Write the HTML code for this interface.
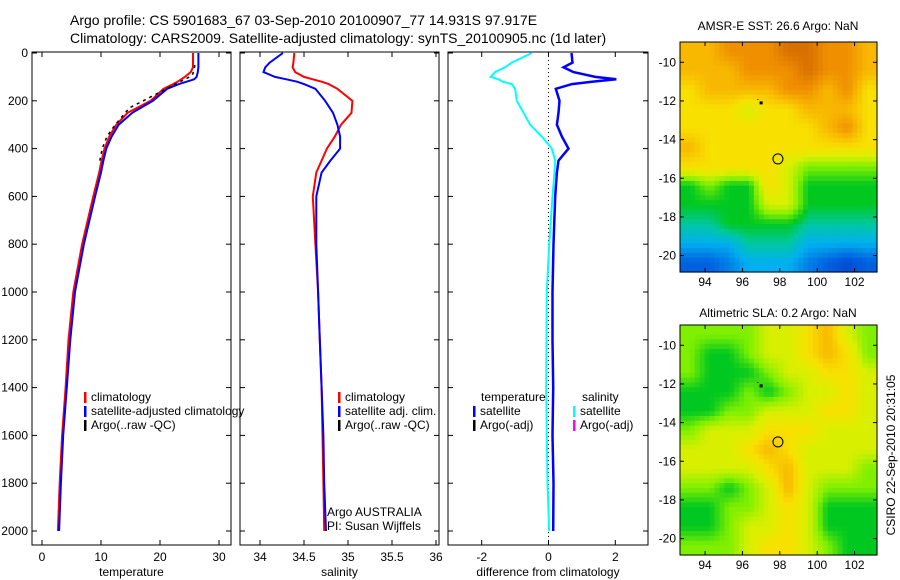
<!DOCTYPE html>
<html><head><meta charset="utf-8"><style>
body{margin:0;background:#fff;}
svg{display:block;font-family:"Liberation Sans",sans-serif;}
</style></head><body>
<svg id="c" width="900" height="580" viewBox="0 0 900 580">
<text x="70" y="25" font-size="14">Argo profile: CS 5901683_67 03-Sep-2010 20100907_77 14.931S 97.917E</text>
<text x="70" y="43" font-size="14">Climatology: CARS2009. Satellite-adjusted climatology: synTS_20100905.nc (1d later)</text>
<text x="778" y="30" font-size="12" text-anchor="middle">AMSR-E SST: 26.6 Argo: NaN</text>
<text x="778" y="317" font-size="12" text-anchor="middle">Altimetric SLA: 0.2 Argo: NaN</text>
<text transform="translate(895,455) rotate(-90)" font-size="12" text-anchor="middle">CSIRO 22-Sep-2010 20:31:05</text>
<g id="g"></g>
</svg>
<script>
const depths=[0,40,60,80,100,110,120,130,150,200,250,300,350,400,450,500,600,800,1000,1200,1400,1600,1800,2000];
const tempClim=[25.6,25.6,25.6,25.2,24.2,23.6,23.0,22.2,20.6,18.4,14.5,12.6,11.4,10.6,10.1,9.7,8.7,6.8,5.3,4.5,4.0,3.4,3.0,2.7];
const tempSat=[26.5,26.5,26.5,26.4,26.2,25.8,24.5,23.2,21.2,18.8,15.3,13.0,11.8,10.9,10.4,10.0,9.0,7.1,5.6,4.8,4.2,3.6,3.2,2.9];
const argoDepths=[50,70,90,100,110,230,260,300,350,400,450];
const argoTemp=[25.9,25.8,25.5,25.0,24.2,14.8,13.8,12.4,11.0,10.2,9.8];
const salClim=[34.39,34.38,34.37,34.4,34.5,34.6,34.7,34.78,34.88,35.05,35.04,34.92,34.85,34.76,34.7,34.64,34.6,34.63,34.66,34.68,34.7,34.71,34.72,34.73];
const salSat=[34.26,34.11,34.06,34.04,34.17,34.3,34.42,34.5,34.63,34.74,34.83,34.88,34.91,34.91,34.8,34.7,34.64,34.64,34.66,34.68,34.7,34.72,34.73,34.75];
const diffTemp=[0.69,0.72,0.45,0.75,1.4,2.03,1.3,0.7,0.22,0.33,0.3,0.25,0.4,0.6,0.3,0.25,0.2,0.15,0.12,0.12,0.14,0.12,0.15,0.14];
const diffSal=[-0.5,-1.1,-1.3,-1.6,-1.73,-1.5,-1.37,-1.1,-1.0,-0.95,-0.75,-0.55,-0.2,0.1,0.2,0.18,0.12,0.02,-0.05,-0.06,-0.07,-0.05,-0.03,0.02];
const depthTicks=[0,200,400,600,800,1000,1200,1400,1600,1800,2000];
const tempTicks=[0,10,20,30];
const salTicks=[34,34.5,35,35.5,36];
const diffTicks=[-2,0,2];
const lonTicks=[94,96,98,100,102];
const latTicks=[-10,-12,-14,-16,-18,-20];
const sstGrid=[
[6,6,7,7,7,8,8,7,7,6],[6,6,6,7,7,7,8,7,7,6],[5,6,6,6,6,7,7,6,7,5],[5,5,5,4,5,5,6,6,6,5],
[5,5,5,5,5,5,5,6,7,5],[6,5,5,5,5,5,5,5,5,5],[5,5,5,5,5,4,3,3,3,3],[2,3,2,2,5,4,2,2,2,2],
[2,2,2,2,4,4,2,2,2,2],[1.5,1.5,2,2,2,2,1.5,1.5,1.5,1.5],[1,1,1,1.5,1.5,1.5,1,1,1,1],[0.5,0.5,0.7,1,1,1,0.7,0.5,0.3,0.5]];
const slaGrid=[
[3,3,3,3,4,4,5,6,4,3],[3,2,2,3,4,4,5,6,5,3],[3,2,2,2,3,4,4,5,5,4],[2,2,2,3,2,3,4,4,5,4],
[2,2,3,3,4,4,4,5,5,4],[3,4,4,4,5,5,5,4,4,4],[4,4,4,5,6,5,4,4,4,4],[4,4,4,4,5,6,4,4,4,3],
[3,3,2,3,4,6,4,3,3,3],[2,2,3,3,4,5,4,2,2,2],[2,2,3,4,4,5,4,2,2,2],[3,3,3,4,5,5,4,3,2,2]];
const argoLon=[97.9];const argoLat=[-15.0];

const NS='http://www.w3.org/2000/svg';const G=document.getElementById('g');
function mk(t,a,p){const e=document.createElementNS(NS,t);for(const k in a)e.setAttribute(k,a[k]);(p||G).appendChild(e);return e;}
const yD=d=>53+d*(478/2000);
const PB=545, PTOP=52;
function panel(x0,x1,fx,ticks,lab,xlabel,name,showY){
  const r=mk('rect',{x:x0,y:PTOP,width:x1-x0,height:PB-PTOP,fill:'none',stroke:'#000','stroke-width':1});
  
  depthTicks.forEach(d=>{const y=yD(d);mk('line',{x1:x0,x2:x0+5,y1:y,y2:y,stroke:'#000'});mk('line',{x1:x1-5,x2:x1,y1:y,y2:y,stroke:'#000'});
    if(showY){const t=mk('text',{x:x0-4,y:y+4,'font-size':12,'text-anchor':'end'});t.textContent=d;}});
  ticks.forEach(v=>{const x=fx(v);mk('line',{x1:x,x2:x,y1:PTOP,y2:PTOP+5,stroke:'#000'});mk('line',{x1:x,x2:x,y1:PB-5,y2:PB,stroke:'#000'});
    const t=mk('text',{x:x,y:561,'font-size':12,'text-anchor':'middle'});t.textContent=v;});
  const t=mk('text',{x:(x0+x1)/2,y:576,'font-size':12,'text-anchor':'middle'});t.textContent=xlabel;
}
function line(ds,vs,fx,col,w,name,extra){
  const p=mk('polyline',Object.assign({points:ds.map((d,i)=>fx(vs[i]).toFixed(1)+','+yD(d).toFixed(1)).join(' '),fill:'none',stroke:col,'stroke-width':w},extra||{}));
  
}
function legend(x,y,col,txt,name){
  mk('rect',{x:x,y:y-9,width:2.5,height:11,fill:col});
  const t=mk('text',{x:x+7,y:y,'font-size':12});t.textContent=txt;
}
const fT=v=>42+v*5.9;
panel(32,231,fT,tempTicks,null,'temperature','temperature-panel',true);
line(depths,tempClim,fT,'#f00',2,'temp-climatology-line');
line(depths,tempSat,fT,'#00f',2,'temp-satellite-line');
line(argoDepths,argoTemp,fT,'#000',1.5,'temp-argo-line',{'stroke-dasharray':'3,4'});
legend(84,401,'#f00','climatology','legend-climatology');
legend(84,415,'#00f','satellite-adjusted climatology','legend-satellite');
legend(84,429,'#000','Argo(..raw -QC)','legend-argo');
const fS=v=>260+(v-34)*88;
panel(240,439,fS,salTicks,null,'salinity','salinity-panel',false);
line(depths,salClim,fS,'#f00',2,'sal-climatology-line');
line(depths,salSat,fS,'#00f',2,'sal-satellite-line');
legend(338,401,'#f00','climatology','legend-sal-climatology');
legend(338,415,'#00f','satellite adj. clim.','legend-sal-satellite');
legend(338,429,'#000','Argo(..raw -QC)','legend-sal-argo');
{const t=mk('text',{x:327,y:516,'font-size':12});t.textContent='Argo AUSTRALIA';
 const u=mk('text',{x:327,y:530,'font-size':12});u.textContent='PI: Susan Wijffels';}
const fD=v=>548.5+v*33.4;
panel(448,648,fD,diffTicks,null,'difference from climatology','difference-panel',false);
mk('line',{x1:fD(0),x2:fD(0),y1:PTOP,y2:PB,stroke:'#000','stroke-dasharray':'1,3'});
line(depths,diffSal,fD,'#0ff',2,'sal-diff-line');
line(depths,diffTemp,fD,'#00f',2.5,'temp-diff-line');
{const t=mk('text',{x:481,y:401,'font-size':12});t.textContent='temperature';
 const u=mk('text',{x:582,y:401,'font-size':12});u.textContent='salinity';}
legend(473,415,'#00f','satellite','legend-temp-satellite');
legend(473,429,'#000','Argo(-adj)','legend-temp-argo');
legend(573,415,'#0ff','satellite','legend-sal-satellite');
legend(573,429,'#f0f','Argo(-adj)','legend-sal-argo-adj');
const stops=[[0,[0,48,192]],[0.5,[0,96,224]],[1,[0,176,240]],[1.5,[0,200,160]],[2,[0,200,32]],[3,[128,240,0]],[4,[216,240,0]],[5,[248,224,0]],[6,[248,184,0]],[7,[240,144,0]],[8,[216,112,0]]];
function cmap(v){for(let i=1;i<stops.length;i++){if(v<=stops[i][0]){const a=stops[i-1],b=stops[i],t=(v-a[0])/(b[0]-a[0]);return 'rgb('+a[1].map((c,j)=>Math.round(c+(b[1][j]-c)*t)).join(',')+')';}}return 'rgb(216,112,0)';}
function sample(grid,fr,fc){
  const nr=grid.length,nc=grid[0].length;
  let r=Math.min(Math.max(fr-0.5,0),nr-1),c=Math.min(Math.max(fc-0.5,0),nc-1);
  const r0=Math.floor(r),c0=Math.floor(c),r1=Math.min(r0+1,nr-1),c1=Math.min(c0+1,nc-1),tr=r-r0,tc=c-c0;
  return (grid[r0][c0]*(1-tc)+grid[r0][c1]*tc)*(1-tr)+(grid[r1][c0]*(1-tc)+grid[r1][c1]*tc)*tr;
}
function map(y0,grid,name){
  const x0=680,x1=877,y1=y0+230;
  const lonMin=92.66,lonMax=103.2,latMax=-8.95,latMin=-20.85;
  const fx=l=>x0+(l-lonMin)/(lonMax-lonMin)*(x1-x0), fy=l=>y0+(latMax-l)/(latMax-latMin)*(y1-y0);
  const nr=grid.length,nc=grid[0].length,S=4;
  const cw=(x1-x0)/(nc*S),ch=(y1-y0)/(nr*S);
  for(let r=0;r<nr*S;r++)for(let c=0;c<nc*S;c++){
    const v=sample(grid,(r+0.5)/S,(c+0.5)/S);
    const e=mk('rect',{x:(x0+c*cw).toFixed(2),y:(y0+r*ch).toFixed(2),width:(cw+0.6).toFixed(2),height:(ch+0.6).toFixed(2),fill:cmap(v)});
    
  }
  mk('rect',{x:x0,y:y0,width:x1-x0,height:y1-y0,fill:'none',stroke:'#000'});
  lonTicks.forEach(l=>{const x=fx(l);mk('line',{x1:x,x2:x,y1:y1,y2:y1-4,stroke:'#000'});mk('line',{x1:x,x2:x,y1:y0,y2:y0+4,stroke:'#000'});
    const t=mk('text',{x:x,y:y1+14,'font-size':12,'text-anchor':'middle'});t.textContent=l;});
  latTicks.forEach(l=>{const y=fy(l);mk('line',{x1:x0,x2:x0+4,y1:y,y2:y,stroke:'#000'});mk('line',{x1:x1,x2:x1-4,y1:y,y2:y,stroke:'#000'});
    const t=mk('text',{x:x0-4,y:y+4,'font-size':12,'text-anchor':'end'});t.textContent=l;});
  const c=mk('circle',{cx:fx(argoLon[0]),cy:fy(argoLat[0]),r:5,fill:'none',stroke:'#000','stroke-width':1});
  
  mk('rect',{x:fx(97)-1.5,y:fy(-12.1)-1.5,width:3,height:3,fill:'#000'});
  mk('rect',{x:fx(96.8),y:fy(-11.9),width:1,height:1,fill:'#000'});
}
map(42,sstGrid,'sst-map');
map(325,slaGrid,'sla-map');
</script>
</body></html>
